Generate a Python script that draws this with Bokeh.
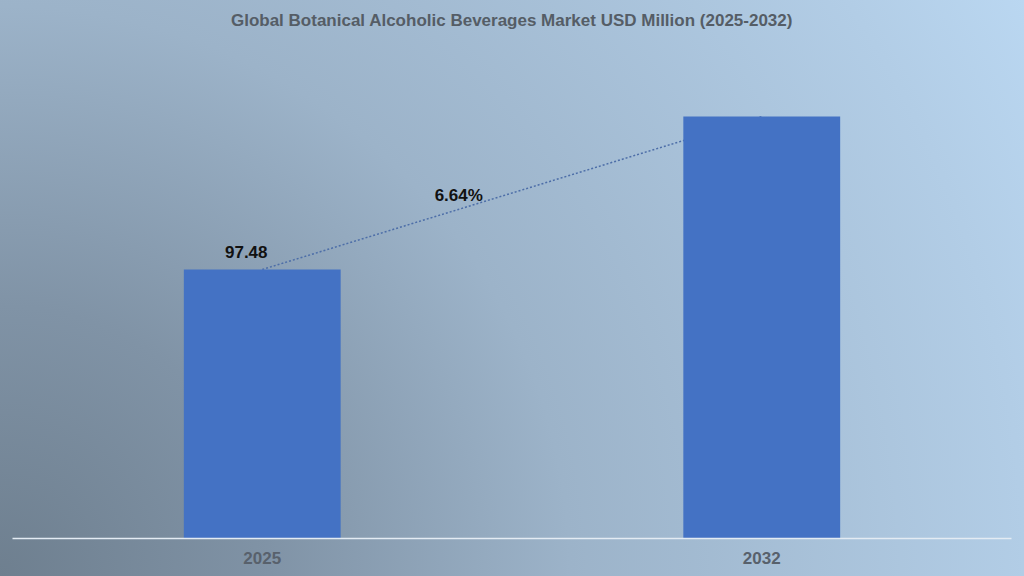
from bokeh.plotting import figure
from bokeh.models import Range1d, FactorRange
from bokeh.embed import file_html
from bokeh.resources import INLINE
from bokeh.core.properties import value

# ---- data ----
title_text = "Global Botanical Alcoholic Beverages Market USD Million (2025-2032)"
years = ["2025", "2032"]
market_values = [97.48, 152.9]
first_label = "97.48"
cagr_label = "6.64%"

FONT = "Liberation Sans"

p = figure(
    width=1024, height=576,
    x_range=FactorRange(*years),
    y_range=Range1d(0, 180.46),
    output_backend="svg",
    toolbar_location=None,
    y_axis_location=None,
    min_border_left=12, min_border_right=13,
    min_border_top=40, min_border_bottom=38,
    title=title_text,
)

p.styles = {
    "background": "radial-gradient(circle farthest-corner at 0% 100%, "
                  "#6e7f8f 0px, #8093a6 270px, #9cb3c9 570px, "
                  "#b2cde6 1024px, #bad7f1 1175px)"
}
p.border_fill_color = None
p.background_fill_color = None
p.outline_line_color = None

p.title.align = "center"
p.title.vertical_align = "top"
p.title.text_font = FONT
p.title.text_font_size = "17px"
p.title.text_font_style = "bold"
p.title.text_color = "#555d66"
p.title.standoff = 17

# CAGR connector (drawn before bars so the second bar covers its end)
p.line(x=years, y=market_values, line_dash="2 2", line_color="#4d6ea8", line_width=1.5)

p.vbar(x=years, top=market_values, width=0.314, fill_color="#4472c4", line_color=None)

p.text(x=[years[0]], y=[market_values[0]], text=[first_label],
       x_offset=-16, y_offset=-11,
       text_align="center", text_baseline="bottom",
       text_font=value(FONT), text_font_size="17px", text_font_style="bold",
       text_color="#111111")

p.text(x=[years[1]], y=[(market_values[0] + market_values[1]) / 2], text=[cagr_label],
       x_offset=-303, y_offset=2,
       text_align="center", text_baseline="middle",
       text_font=value(FONT), text_font_size="17px", text_font_style="bold",
       text_color="#111111")

p.xgrid.visible = False
p.ygrid.visible = False
xa = p.xaxis[0]
xa.axis_line_color = "#e3ebf3"
xa.axis_line_width = 1.5
xa.major_tick_line_color = None
xa.minor_tick_line_color = None
xa.major_label_text_font = FONT
xa.major_label_text_font_size = "17px"
xa.major_label_text_font_style = "bold"
xa.major_label_text_color = "#58616c"
xa.major_label_standoff = 7

open("out.html", "w").write(file_html(p, INLINE))
